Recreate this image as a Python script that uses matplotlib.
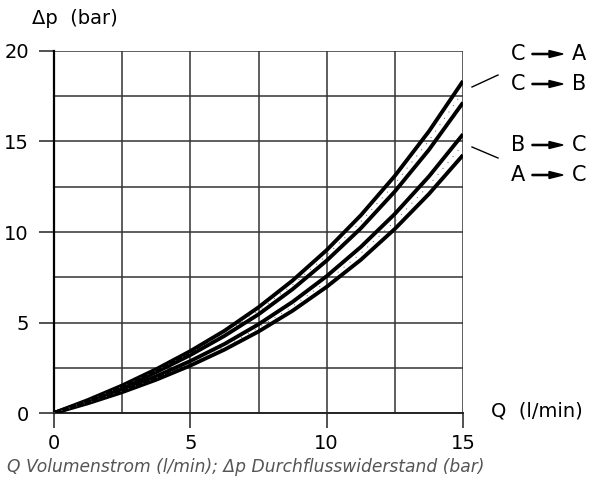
import numpy as np
import matplotlib
matplotlib.use("Agg")
import matplotlib.pyplot as plt
from matplotlib.patches import FancyArrow

# flow rate Q (l/min) and pressure drop dp (bar) per flow path
flow = [0, 1.25, 2.5, 3.75, 5, 6.25, 7.5, 8.75, 10, 11.25, 12.5, 13.75, 15]
dp_c_a = [0, 0.72, 1.52, 2.42, 3.42, 4.54, 5.84, 7.32, 9.0, 10.92, 13.1, 15.56, 18.34]
dp_c_b = [0, 0.67, 1.42, 2.26, 3.2, 4.26, 5.45, 6.84, 8.42, 10.2, 12.24, 14.54, 17.15]
dp_b_c = [0, 0.6, 1.28, 2.03, 2.87, 3.81, 4.9, 6.14, 7.56, 9.17, 11.0, 13.07, 15.4]
dp_a_c = [0, 0.54, 1.15, 1.84, 2.62, 3.5, 4.5, 5.65, 6.97, 8.46, 10.17, 12.1, 14.25]

x_ticks = [0, 5, 10, 15]
y_ticks = [0, 5, 10, 15, 20]
grid_step = 2.5

W, H = 600, 490
fig = plt.figure(figsize=(W / 100, H / 100), dpi=100)
ax = fig.add_axes([54 / W, 77 / H, 409 / W, 362 / H])
ax.set_xlim(0, 15)
ax.set_ylim(0, 20)

# grid every 2.5 units
for gx in np.arange(grid_step, 15.01, grid_step):
    ax.axvline(gx, color="#333333", lw=1.1, zorder=1)
for gy in np.arange(grid_step, 20.01, grid_step):
    ax.axhline(gy, color="#333333", lw=1.1, zorder=1)

for s in ["top", "right"]:
    ax.spines[s].set_visible(False)
ax.spines["left"].set_linewidth(1.6)
ax.spines["bottom"].set_linewidth(1.4)
ax.spines["bottom"].set_color("#222222")

ax.set_xticks(x_ticks)
ax.set_yticks(y_ticks)
ax.tick_params(axis="both", direction="out", length=11, width=1.2,
               color="#333333", labelsize=14, pad=7)
ax.tick_params(axis="x", pad=4)

# curves
for ys in [dp_c_a, dp_c_b, dp_b_c, dp_a_c]:
    ax.plot(flow, ys, color="black", lw=2.8, solid_joinstyle="round",
            solid_capstyle="butt", zorder=3)

# dotted centre lines between pairs
mid_top = (np.array(dp_c_a) + np.array(dp_c_b)) / 2
mid_bot = (np.array(dp_b_c) + np.array(dp_a_c)) / 2
for ys in [mid_top, mid_bot]:
    ax.plot(flow, ys, color="#555555", lw=0.7, linestyle=(0, (1, 7)), zorder=4)

# axis captions
fig.text(32 / W, 1 - 18 / H, "\u0394p  (bar)", fontsize=14, va="center", ha="left")
fig.text(491 / W, 1 - 411 / H, "Q  (l/min)", fontsize=14, va="center", ha="left")

# flow path labels with arrows
labels = [("C", "A", 54), ("C", "B", 84), ("B", "C", 145), ("A", "C", 175)]
for a, b, yp in labels:
    yf = 1 - yp / H
    fig.text(518 / W, yf, a, fontsize=15, ha="center", va="center")
    fig.text(579 / W, yf, b, fontsize=15, ha="center", va="center")
    fig.patches.append(FancyArrow(
        532 / W, yf, 31 / W, 0, width=1.2 / H, head_width=7 / H,
        head_length=14 / W, length_includes_head=True, color="black",
        transform=fig.transFigure, figure=fig))

fig.add_artist(plt.Line2D([472 / W, 498 / W], [1 - 87 / H, 1 - 75 / H],
                          color="black", lw=1.0))
fig.add_artist(plt.Line2D([472 / W, 498 / W], [1 - 147 / H, 1 - 158 / H],
                          color="black", lw=1.0))

fig.text(7 / W, 1 - 467 / H,
         "Q Volumenstrom (l/min); \u0394p Durchflusswiderstand (bar)",
         fontsize=12.3, style="italic", color="#555555", va="center", ha="left",
         family=["Liberation Sans Narrow", "DejaVu Sans"])

fig.savefig("out.png", dpi=100)
